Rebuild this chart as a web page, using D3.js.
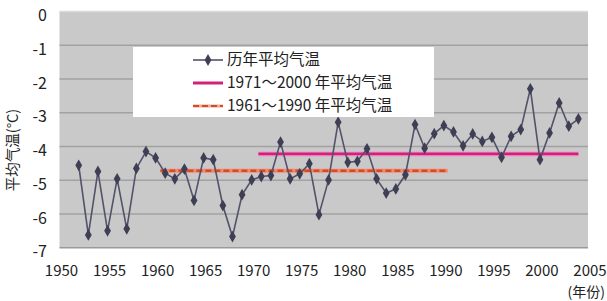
<!DOCTYPE html>
<html><head><meta charset="utf-8">
<script src="https://cdn.jsdelivr.net/npm/d3@7"></script>
<style>body{margin:0;background:#fff}svg{display:block}text{font-family:"Noto Sans CJK SC","Noto Sans",sans-serif;fill:#222}</style>
</head><body>
<script>
const years = d3.range(1952, 2005);
const temps = [-4.56,-6.62,-4.74,-6.50,-4.96,-6.44,-4.65,-4.15,-4.34,-4.79,-4.96,-4.67,-5.60,
  -4.34,-4.39,-5.75,-6.67,-5.43,-4.99,-4.89,-4.86,-3.87,-4.96,-4.81,-4.51,-6.02,-4.99,-3.28,
  -4.47,-4.44,-4.07,-4.96,-5.38,-5.26,-4.84,-3.35,-4.05,-3.62,-3.38,-3.57,-3.98,-3.63,-3.85,
  -3.73,-4.32,-3.70,-3.50,-2.29,-4.39,-3.60,-2.71,-3.40,-3.18];
const meanNames = ["1971～2000 年平均气温","1961～1990 年平均气温"];
const meanValues = [-4.22, -4.72];
const meanStart = [1970.7, 1960.5];
const meanEnd = [2004, 1990.4];
const seriesName = "历年平均气温";
const yTicks = [0,-1,-2,-3,-4,-5,-6,-7];
const xTicks = d3.range(1950, 2006, 5);
const yTitle = "平均气温(°C)";
const xTitle = "(年份)";

const W = 607, H = 301;
const svg = d3.select("body").append("svg").attr("width", W).attr("height", H);
const x = d3.scaleLinear().domain([1950, 2005]).range([59.5, 588]);
const y = d3.scaleLinear().domain([0, -7]).range([11.5, 247.7]);

// plot background
svg.append("rect").attr("x", x(1950)).attr("y", y(0)).attr("width", x(2005) - x(1950))
  .attr("height", y(-7) - y(0)).attr("fill", "#c9c9c9");
svg.append("line").attr("x1", x(1950)).attr("x2", x(2005)).attr("y1", y(0)).attr("y2", y(0))
  .attr("stroke", "#dadada").attr("stroke-width", 1.5);

// gridlines
svg.append("g").selectAll("line").data(yTicks.filter(d => d < 0 && d > -7)).join("line")
  .attr("x1", x(1950)).attr("x2", x(2005)).attr("y1", d => y(d)).attr("y2", d => y(d))
  .attr("stroke", "#a2a2a2").attr("stroke-width", 1.5);
svg.append("line").attr("x1", x(1950)).attr("x2", x(2005)).attr("y1", y(-7)).attr("y2", y(-7))
  .attr("stroke", "#9a9a9a").attr("stroke-width", 1.5);

// y tick labels
svg.append("g").selectAll("text").data(yTicks).join("text")
  .attr("x", 47).attr("y", d => y(d) + 4).attr("dy", "0.35em").attr("text-anchor", "end")
  .attr("font-size", 16).text(d => d === 0 ? "0" : "-" + Math.abs(d));

// x tick labels
svg.append("g").selectAll("text").data(xTicks).join("text")
  .attr("x", d => x(d) + 2).attr("y", 276).attr("text-anchor", "middle")
  .attr("font-size", 15).text(d => d);

// titles
svg.append("text").attr("transform", "translate(18,150) rotate(-90)").attr("text-anchor", "middle")
  .attr("font-size", 14.5).text(yTitle);
svg.append("text").attr("x", 605).attr("y", 297).attr("text-anchor", "end")
  .attr("font-size", 14).text(xTitle);

// mean lines
svg.append("line").attr("x1", x(meanStart[0])).attr("x2", x(meanEnd[0]))
  .attr("y1", y(meanValues[0])).attr("y2", y(meanValues[0]))
  .attr("stroke", "#f09cc8").attr("stroke-width", 5);
svg.append("line").attr("x1", x(meanStart[0])).attr("x2", x(meanEnd[0]))
  .attr("y1", y(meanValues[0])).attr("y2", y(meanValues[0]))
  .attr("stroke", "#d2207f").attr("stroke-width", 2.8);
svg.append("line").attr("x1", x(meanStart[1])).attr("x2", x(meanEnd[1]))
  .attr("y1", y(meanValues[1])).attr("y2", y(meanValues[1]))
  .attr("stroke", "#f08a78").attr("stroke-width", 4);
svg.append("line").attr("x1", x(meanStart[1])).attr("x2", x(meanEnd[1]))
  .attr("y1", y(meanValues[1])).attr("y2", y(meanValues[1]))
  .attr("stroke", "#dc4a1c").attr("stroke-width", 2.5).attr("stroke-dasharray", "6,3");

// series
const data = years.map((yr, i) => ({yr, v: temps[i]}));
svg.append("path").datum(data)
  .attr("d", d3.line().x(d => x(d.yr)).y(d => y(d.v)))
  .attr("fill", "none").attr("stroke", "#52526a").attr("stroke-width", 1.6);
const diamond = d3.symbol().type(d3.symbolDiamond).size(40);
svg.append("g").selectAll("path").data(data).join("path")
  .attr("transform", d => `translate(${x(d.yr)},${y(d.v)})`)
  .attr("d", diamond).attr("fill", "#3e3e54");

// legend
const lg = svg.append("g");
lg.append("rect").attr("x", 133).attr("y", 47).attr("width", 301).attr("height", 70).attr("fill", "#fff");
const rows = [60, 83, 106];
lg.append("line").attr("x1", 193).attr("x2", 223).attr("y1", rows[0]).attr("y2", rows[0])
  .attr("stroke", "#52526a").attr("stroke-width", 1.6);
lg.append("path").attr("transform", `translate(208,${rows[0]})`).attr("d", diamond).attr("fill", "#3e3e54");
lg.append("line").attr("x1", 193).attr("x2", 223).attr("y1", rows[1]).attr("y2", rows[1])
  .attr("stroke", "#d2207f").attr("stroke-width", 3);
lg.append("line").attr("x1", 193).attr("x2", 223).attr("y1", rows[2]).attr("y2", rows[2])
  .attr("stroke", "#e8a8a0").attr("stroke-width", 3);
lg.append("line").attr("x1", 193).attr("x2", 223).attr("y1", rows[2]).attr("y2", rows[2])
  .attr("stroke", "#dc4a1c").attr("stroke-width", 2).attr("stroke-dasharray", "6,3");
const labels = [seriesName, meanNames[0], meanNames[1]];
lg.selectAll("text.l").data(labels).join("text").attr("class", "l")
  .attr("x", 227).attr("y", (d, i) => rows[i]).attr("dy", "0.35em")
  .attr("font-size", 15.5).text(d => d);
</script>
</body></html>
